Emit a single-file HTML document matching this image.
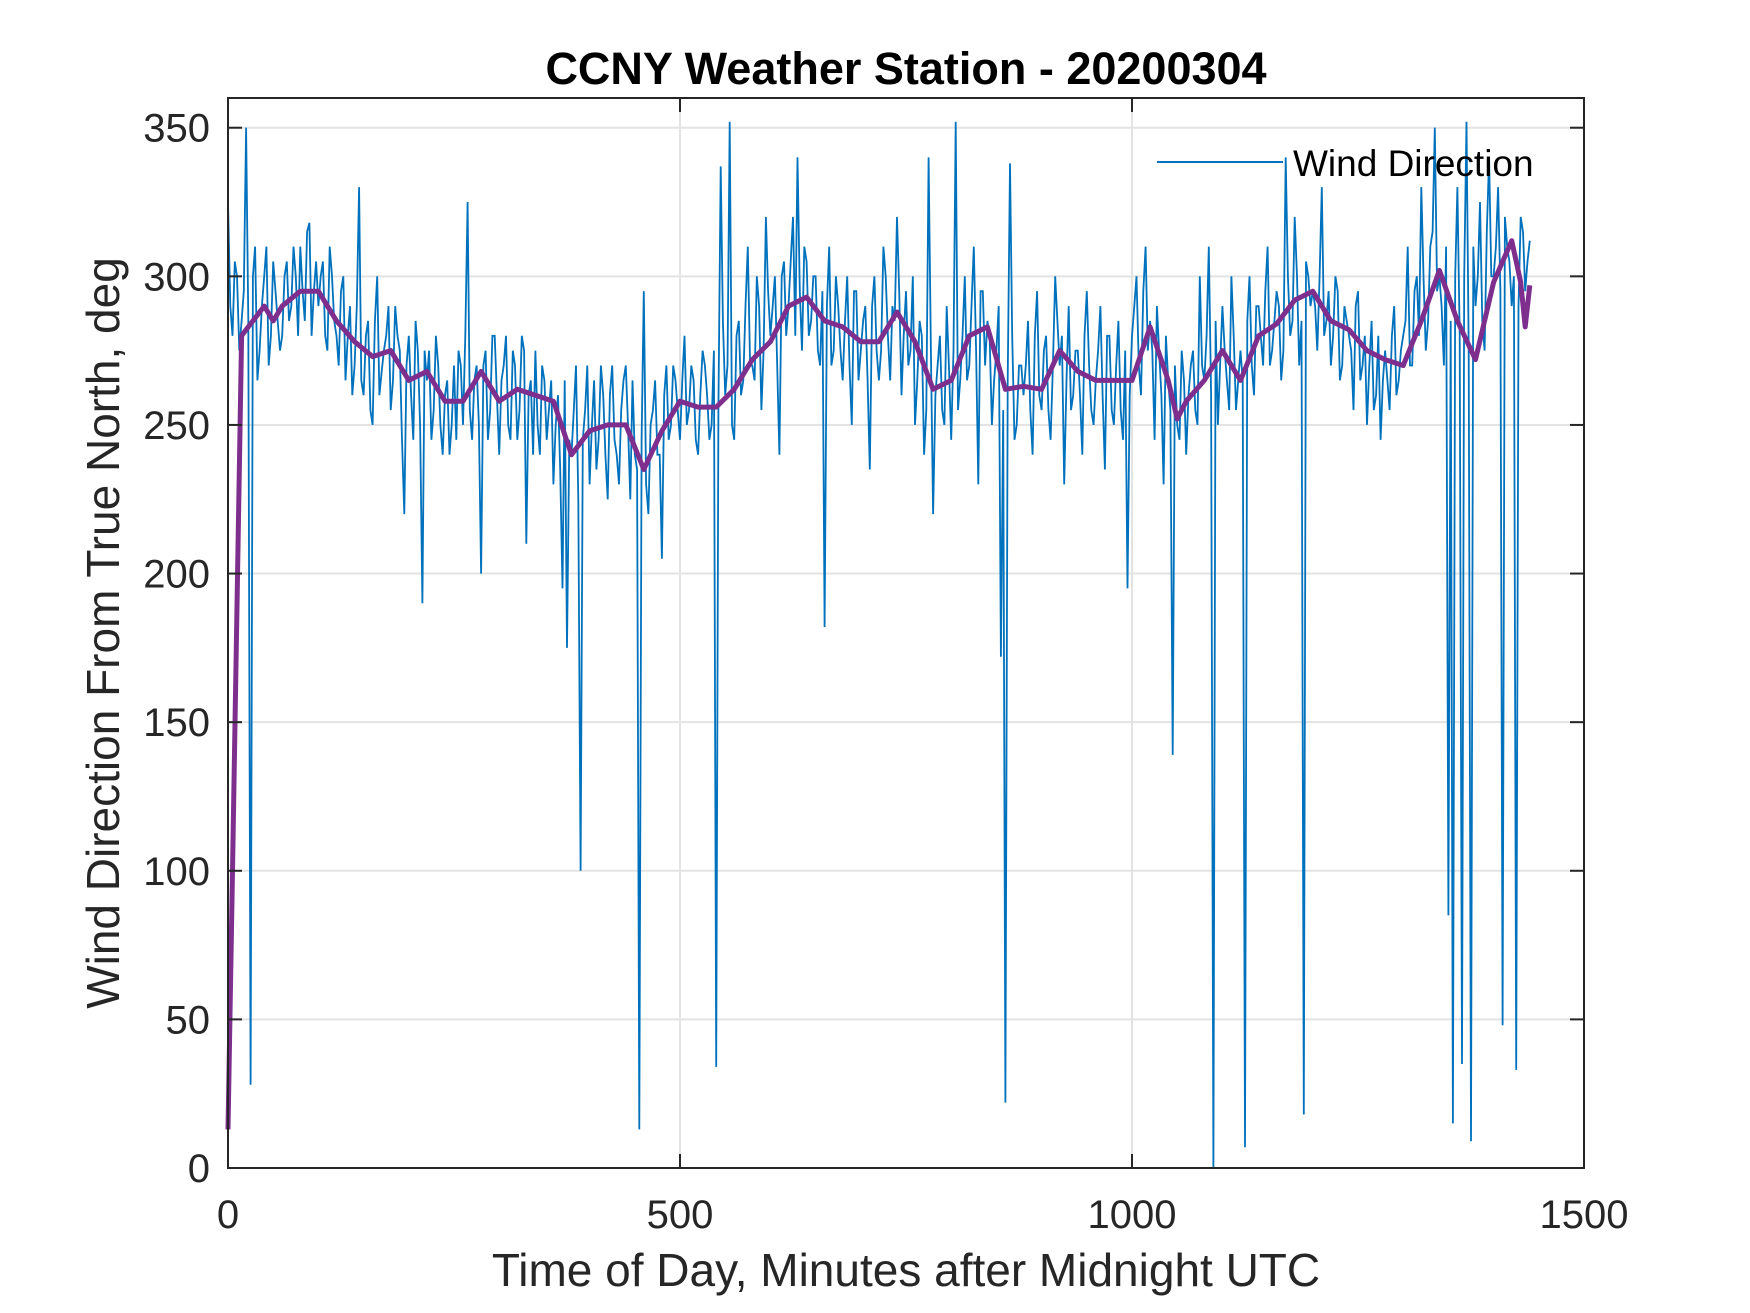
<!DOCTYPE html>
<html><head><meta charset="utf-8"><style>
html,body{margin:0;padding:0;background:#fff;}
svg{display:block;font-family:"Liberation Sans",Arial,sans-serif;}
</style></head><body>
<svg id="chart" width="1750" height="1313" viewBox="0 0 1750 1313">
<rect width="1750" height="1313" fill="#fff"/>
<g id="grid"></g>
<g id="series"></g>
<g id="axes"></g>
<text x="906" y="84" text-anchor="middle" font-size="45" font-weight="bold" fill="#000">CCNY Weather Station - 20200304</text>
<text x="906" y="1286" text-anchor="middle" font-size="46" fill="#262626">Time of Day, Minutes after Midnight UTC</text>
<text transform="translate(119,633) rotate(-90)" text-anchor="middle" font-size="46" fill="#262626">Wind Direction From True North, deg</text>
<g>
<line x1="1157" y1="162" x2="1283" y2="162" stroke="#0072BD" stroke-width="2"/>
<text x="1293" y="176" font-size="37" fill="#000">Wind Direction</text>
</g>
</svg>
<script>
const xTicks=[0,500,1000,1500];
const yTicks=[0,50,100,150,200,250,300,350];
const windValues=[325,280,300,285,350,28,310,275,300,270,305,285,280,305,290,300,310,285,318,295,290,305,275,300,280,295,265,290,270,330,260,285,250,300,268,280,255,290,275,220,280,245,275,190,265,245,280,250,260,240,270,275,250,325,245,270,200,275,255,280,240,270,250,275,245,280,210,265,275,240,265,255,230,260,195,175,240,270,100,255,230,265,245,260,225,270,240,255,270,225,240,13,295,220,255,240,205,270,250,265,245,280,255,265,240,275,260,250,34,337,260,352,245,285,265,310,270,300,255,320,280,300,240,305,290,320,340,275,305,285,300,270,182,310,275,290,265,300,250,295,275,290,235,300,265,310,280,290,320,260,295,275,250,285,240,340,220,270,255,290,245,352,265,300,270,310,230,295,285,250,275,172,22,338,245,270,260,285,240,295,255,280,245,300,270,230,290,260,275,240,295,255,265,290,235,280,250,285,245,195,280,300,260,310,285,245,275,230,265,139,250,275,240,270,255,300,265,310,0,250,290,265,300,255,275,7,300,260,290,270,310,275,295,265,340,280,320,270,18,300,295,275,330,285,270,300,265,290,280,255,295,270,250,285,260,245,275,255,290,265,280,310,270,300,330,275,310,350,300,270,85,15,330,35,352,9,290,325,275,340,300,330,48,310,290,33,320,295,312];
const windValuesMid=[290,305,275,295,285,300,265,290,310,280,295,275,300,285,310,280,295,315,280,305,300,280,310,285,270,300,280,260,290,265,280,255,285,260,275,290,265,280,245,270,260,285,250,275,275,255,270,240,265,250,245,270,280,255,265,250,270,245,280,260,265,280,245,270,255,275,260,240,250,270,245,265,250,235,265,245,255,225,245,270,250,235,270,240,260,245,230,265,250,265,235,245,230,250,265,240,260,245,270,255,265,250,270,245,260,270,245,275,255,285,270,250,280,260,290,270,265,290,275,295,290,270,300,280,305,280,295,310,280,300,275,295,290,270,300,275,285,270,295,265,285,265,290,275,275,300,265,285,295,280,270,300,265,280,255,275,260,280,250,270,275,255,280,265,290,275,295,270,280,265,290,255,265,280,250,270,270,255,280,260,275,255,270,285,280,265,255,275,260,280,270,250,275,260,280,255,270,255,275,260,290,270,295,275,275,290,260,280,255,270,245,265,260,275,250,270,280,260,285,270,275,255,280,265,265,285,270,290,280,295,270,285,290,275,300,285,300,285,305,290,290,300,280,295,280,295,270,285,275,290,265,280,270,255,280,265,265,280,260,275,285,270,295,280,300,285,315,295,290,310,285,300,280,300,275,310,300,285,315,300,310,295,320,305,300,290,315,305];
const windStep=5;
const avgTimes=[0,5,15,20,40,50,60,80,100,120,140,160,180,200,220,240,260,280,300,320,340,360,380,400,420,440,460,480,500,520,540,560,580,600,620,640,660,680,700,720,740,760,780,800,820,840,860,880,900,920,940,960,980,1000,1020,1040,1050,1060,1080,1100,1120,1140,1160,1180,1200,1220,1240,1260,1280,1300,1320,1340,1360,1380,1400,1420,1430,1435,1440];
const avgValues=[13,100,280,282,290,285,290,295,295,285,278,273,275,265,268,258,258,268,258,262,260,258,240,248,250,250,235,248,258,256,256,262,272,278,290,293,285,283,278,278,288,278,262,265,280,283,262,263,262,275,268,265,265,265,283,265,252,258,265,275,265,280,284,292,295,285,282,275,272,270,285,302,285,272,298,312,298,283,297];

const L=228,R=1584,T=98,B=1168;
const X=v=>L+(v-0)/(1500-0)*(R-L);
const Y=v=>B-(v-0)/(360-0)*(B-T);
const NS='http://www.w3.org/2000/svg';
function mk(tag,parent,attrs){const e=document.createElementNS(NS,tag);for(const k in attrs)e.setAttribute(k,attrs[k]);parent.appendChild(e);return e;}
const grid=document.getElementById('grid'),axes=document.getElementById('axes'),series=document.getElementById('series');
xTicks.forEach(t=>{
  const g=mk('line',grid,{x1:X(t),x2:X(t),y1:T,y2:B,stroke:'#e3e3e3','stroke-width':2});
  
  
  const t1=mk('line',axes,{x1:X(t),x2:X(t),y1:B,y2:B-14,stroke:'#262626','stroke-width':2});
  
  
  const t2=mk('line',axes,{x1:X(t),x2:X(t),y1:T,y2:T+14,stroke:'#262626','stroke-width':2});
  
  
  const lb=mk('text',axes,{x:X(t),y:1228,'text-anchor':'middle','font-size':40,fill:'#262626'});
  lb.textContent=t;
  
  
});
yTicks.forEach(t=>{
  const g=mk('line',grid,{x1:L,x2:R,y1:Y(t),y2:Y(t),stroke:'#e3e3e3','stroke-width':2});
  
  
  const t1=mk('line',axes,{x1:L,x2:L+14,y1:Y(t),y2:Y(t),stroke:'#262626','stroke-width':2});
  
  
  const t2=mk('line',axes,{x1:R,x2:R-14,y1:Y(t),y2:Y(t),stroke:'#262626','stroke-width':2});
  
  
  const lb=mk('text',axes,{x:210,y:Y(t)+14,'text-anchor':'end','font-size':40,fill:'#262626'});
  lb.textContent=t;
  
  
});
const box=mk('rect',axes,{x:L,y:T,width:R-L,height:B-T,fill:'none',stroke:'#262626','stroke-width':2});


const pts=[];
windValues.forEach((v,i)=>{
  pts.push(X(i*windStep).toFixed(1)+','+Y(v).toFixed(1));
  if(i<windValuesMid.length) pts.push(X(i*windStep+windStep/2).toFixed(1)+','+Y(windValuesMid[i]).toFixed(1));
});
const bl=mk('polyline',series,{points:pts.join(' '),fill:'none',stroke:'#0072BD','stroke-width':1.8,'stroke-linejoin':'miter'});


const pp=avgTimes.map((t,i)=>X(t).toFixed(1)+','+Y(avgValues[i]).toFixed(1)).join(' ');
const pl=mk('polyline',series,{points:pp,fill:'none',stroke:'#7E2F8E','stroke-width':5,'stroke-linejoin':'round'});


</script>
</body></html>
